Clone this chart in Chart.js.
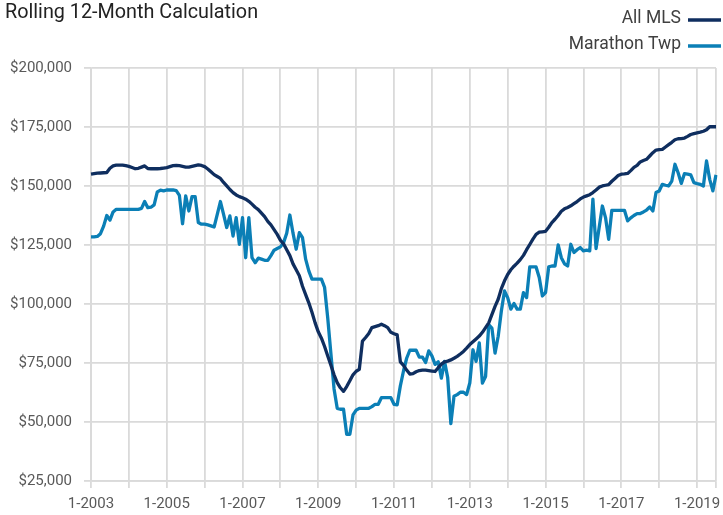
<!DOCTYPE html>
<html><head><meta charset="utf-8">
<script src="https://cdn.jsdelivr.net/npm/chart.js@4.4.0/dist/chart.umd.min.js"></script>
<style>html,body{margin:0;padding:0;background:#fff;overflow:hidden}#wrap{width:723px;height:515px;position:relative}</style>
</head><body><div id="wrap"><canvas id="c" width="723" height="515"></canvas></div>
<script>
const FONT = 'Roboto, "Liberation Sans", sans-serif';
const chartTitle = 'Rolling 12-Month Calculation';
const seriesNames = ['All MLS', 'Marathon Twp'];
const seriesColors = ['#0f2e5f', '#0b7fb6'];
const startYear = 2003;
const monthCount = 199; // 1-2003 .. 7-2019
const categories = [];
for (let i = 0; i < monthCount; i++) {
  categories.push(((i % 12) + 1) + '-' + (startYear + Math.floor(i / 12)));
}
const yTicks = [25000, 50000, 75000, 100000, 125000, 150000, 175000, 200000];

const allMls = [
155000,155200,155400,155500,155600,155700,157500,158500,158800,158800,158800,158600,
158300,157800,157300,157500,158000,158500,157400,157300,157300,157300,157400,157600,
157800,158200,158600,158700,158600,158300,158000,158000,158300,158600,158900,158700,
158200,157200,156000,154800,154000,153200,151500,150000,148500,147200,146200,145500,
145000,144400,143500,142300,141000,140000,138500,137000,135000,133500,131500,129500,
127000,125500,123000,120500,117000,114500,112000,107500,104000,100500,96500,92000,
88200,85500,82000,78000,74000,70000,66700,64500,63000,65000,67500,70000,
71500,72300,84300,85800,87500,90000,90400,90800,91400,90800,90000,88000,
87400,86900,75500,74000,72000,70300,70500,71300,71800,72000,72000,71800,
71600,71400,73000,74500,75500,75800,76300,77000,77800,78800,79900,81300,
82800,84000,85200,86400,88000,90000,92000,95500,99000,102000,106500,109800,
112500,114500,116000,117300,118800,120600,123000,125200,127500,129500,130400,130600,
130800,132500,134500,135900,137500,139300,140300,140900,141600,142500,143400,144500,
145300,145800,146300,147200,148300,149500,150000,150300,150600,152000,153200,154400,
155000,155100,155300,156500,157900,158700,160200,160800,161300,162700,164100,165200,
165400,165500,166500,167500,168500,169600,170000,170100,170300,171000,171800,172200,
172500,172800,173200,173800,175100,175100,175100
];

const marathonTwp = [
128400,128400,128600,129800,133000,137500,135500,139000,140100,140100,140100,140100,
140100,140100,140100,140100,140500,143400,140800,141000,142000,147500,148200,147900,
148300,148300,148300,148000,146000,134000,145800,139400,145500,145500,134500,133800,
133800,133500,133100,132600,138000,143400,138000,132400,137300,128800,136600,125300,
136600,119600,136600,119600,117500,119400,119000,118500,118500,120500,122800,123500,
124200,126000,130000,137700,130000,123200,130200,128100,119000,114000,110500,110500,
110500,110500,107000,94000,79000,64000,55800,55400,55400,44800,44800,53000,
55000,55800,55800,55800,55800,56500,57500,57500,60300,60300,60300,60300,
57500,57300,65300,71600,77000,80400,80400,80400,77500,77500,75200,80100,
78000,74400,75500,68600,75700,68800,49300,60900,61600,62600,62600,61600,
66500,80600,75700,83500,66500,69300,91200,89800,79200,86300,97000,105500,
102700,97800,100200,97800,97800,104800,102700,115700,115700,115700,111200,103400,
104800,115700,116100,116100,125000,119600,117000,116100,125300,121800,123000,123900,
122500,122800,122500,144400,123500,132500,141500,136600,127400,139700,139700,139700,
139700,139700,135200,136500,137500,138300,138300,139000,139800,141100,139400,147200,
147900,150700,150300,150000,152100,159200,155600,151100,155200,155000,154700,151400,
151000,150700,150000,160600,152800,147900,154700
];

const GRID = '#dadada';
const rightLegend = {
  id: 'rightLegend',
  afterDraw(chart) {
    const ctx = chart.ctx;
    ctx.save();
    ctx.font = '17.5px ' + FONT;
    ctx.textAlign = 'right';
    ctx.textBaseline = 'middle';
    chart.data.datasets.forEach((ds, i) => {
      const y = 19 + i * 26;
      ctx.fillStyle = '#404040';
      ctx.fillText(ds.label, 681, y);
      ctx.strokeStyle = ds.borderColor;
      ctx.lineWidth = 3.5;
      ctx.beginPath();
      ctx.moveTo(688, y + 1);
      ctx.lineTo(721, y + 1);
      ctx.stroke();
    });
    ctx.restore();
  }
};

new Chart(document.getElementById('c'), {
  type: 'line',
  data: {
    labels: categories,
    datasets: [
      { label: seriesNames[0], data: allMls, borderColor: seriesColors[0], backgroundColor: seriesColors[0] },
      { label: seriesNames[1], data: marathonTwp, borderColor: seriesColors[1], backgroundColor: seriesColors[1] }
    ]
  },
  options: {
    responsive: false,
    animation: false,
    devicePixelRatio: 1,
    layout: { padding: { top: 1, left: 5, right: 4, bottom: 0 } },
    elements: {
      point: { radius: 0, hoverRadius: 0 },
      line: { borderWidth: 3.3, tension: 0, borderJoinStyle: 'round', borderCapStyle: 'butt' }
    },
    plugins: {
      legend: { display: false },
      tooltip: { enabled: false },
      title: {
        display: true, text: chartTitle, align: 'start', color: '#222',
        font: { family: FONT, size: 19.8, weight: 'normal' },
        padding: { top: 0, bottom: 43.2 }
      }
    },
    scales: {
      x: {
        type: 'category',
        grid: {
          color: (c) => (c.index % 12 === 0 || c.index === monthCount - 1) ? GRID : 'rgba(0,0,0,0)',
          lineWidth: 1.8, tickLength: 7, drawOnChartArea: true
        },
        border: { display: true, color: GRID, width: 1.8 },
        ticks: {
          autoSkip: false, maxRotation: 0, minRotation: 0, padding: 7,
          color: '#595959', font: { family: FONT, size: 15 },
          callback: (v, i) => (i % 24 === 0 ? categories[i] : '')
        },
        afterFit: (s) => { s.height = 34; }
      },
      y: {
        min: yTicks[0], max: yTicks[yTicks.length - 1],
        grid: { color: GRID, lineWidth: 1.8, tickLength: 7 },
        border: { display: true, color: GRID, width: 1.8 },
        ticks: {
          stepSize: 25000, padding: 12, color: '#595959',
          font: { family: FONT, size: 15 },
          callback: (v) => '$' + Number(v).toLocaleString('en-US')
        },
        afterFit: (s) => { s.width = 86; }
      }
    }
  },
  plugins: [rightLegend]
});
</script></body></html>
